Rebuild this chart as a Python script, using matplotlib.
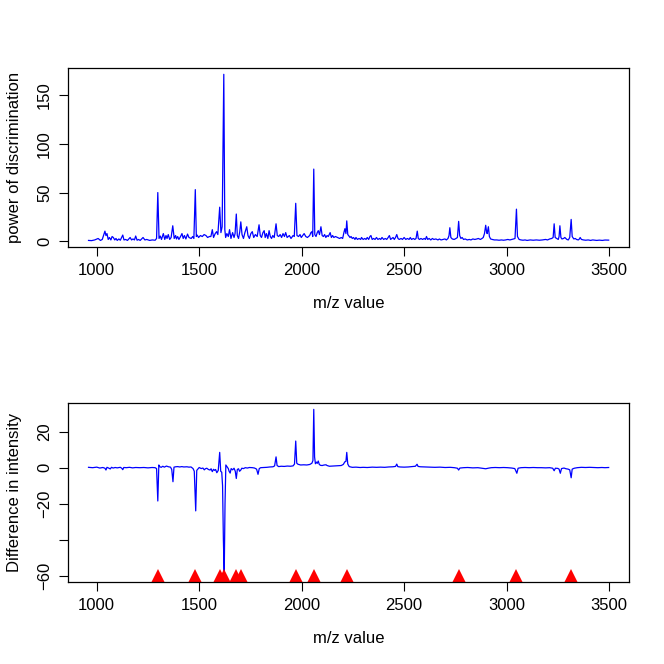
import matplotlib
matplotlib.use("Agg")
import matplotlib.pyplot as plt
import numpy as np

plt.rcParams.update({"font.family": ["Liberation Sans", "DejaVu Sans"], "font.size": 12})

LINE = "#0000ff"
MARK = "#ff0000"

# ---- panel 1: power of discrimination along the spectrum ----
mz_pod = [960, 975, 990, 1007, 1018, 1027, 1040, 1045, 1050, 1056, 1062, 1069, 1075, 1081, 1088,
          1094, 1100, 1108, 1115, 1127, 1133, 1141, 1150, 1163, 1170, 1177, 1184, 1190, 1197, 1204,
          1212, 1226, 1235, 1244, 1258, 1271, 1285, 1292, 1298, 1304, 1310, 1316, 1325, 1332, 1338,
          1343, 1349, 1356, 1363, 1371, 1378, 1385, 1389, 1395, 1401, 1409, 1416, 1422, 1428, 1435,
          1443, 1450, 1461, 1468, 1474, 1481, 1486, 1490, 1497, 1506, 1515, 1524, 1533, 1541, 1550,
          1557, 1564, 1570, 1578, 1585, 1591, 1600, 1606, 1612, 1620, 1625, 1629, 1635, 1642, 1648,
          1655, 1663, 1670, 1675, 1681, 1686, 1692, 1698, 1703, 1709, 1716, 1723, 1732, 1738, 1745,
          1752, 1759, 1766, 1774, 1783, 1792, 1798, 1804, 1811, 1817, 1822, 1828, 1835, 1841, 1847,
          1853, 1859, 1866, 1875, 1881, 1888, 1895, 1902, 1909, 1916, 1922, 1929, 1940, 1948, 1958,
          1964, 1971, 1977, 1985, 1992, 1998, 2005, 2012, 2020, 2028, 2039, 2045, 2050, 2054, 2059,
          2064, 2070, 2076, 2081, 2087, 2094, 2100, 2106, 2112, 2118, 2124, 2130, 2139, 2145, 2151,
          2157, 2165, 2175, 2185, 2193, 2200, 2206, 2211, 2216, 2220, 2225, 2229, 2236, 2241, 2247,
          2253, 2260, 2265, 2272, 2280, 2288, 2292, 2300, 2308, 2314, 2320, 2327, 2333, 2338, 2344,
          2351, 2358, 2365, 2372, 2380, 2386, 2392, 2400, 2408, 2415, 2422, 2428, 2434, 2440, 2446,
          2452, 2458, 2464, 2470, 2476, 2485, 2492, 2500, 2508, 2516, 2524, 2530, 2536, 2545, 2552,
          2558, 2564, 2569, 2575, 2582, 2590, 2598, 2604, 2609, 2615, 2622, 2630, 2638, 2645, 2655,
          2665, 2672, 2680, 2690, 2699, 2706, 2714, 2719, 2723, 2728, 2735, 2744, 2753, 2760, 2766,
          2771, 2777, 2783, 2790, 2798, 2808, 2818, 2826, 2835, 2845, 2855, 2862, 2872, 2880, 2886,
          2892, 2898, 2902, 2905, 2911, 2916, 2922, 2930, 2940, 2952, 2963, 2975, 2985, 2995, 3006,
          3016, 3026, 3034, 3041, 3048, 3053, 3061, 3070, 3080, 3090, 3100, 3115, 3130, 3145, 3160,
          3175, 3190, 3200, 3210, 3220, 3227, 3232, 3237, 3245, 3252, 3256, 3260, 3265, 3270, 3278,
          3284, 3289, 3294, 3301, 3308, 3315, 3320, 3328, 3335, 3341, 3350, 3355, 3359, 3365, 3375,
          3386, 3398, 3410, 3420, 3430, 3440, 3452, 3467, 3480, 3498]
pod = [1, 0.8, 1.5, 3, 1, 2, 10.5, 6, 8, 2, 4, 1.5, 5, 4, 1.5,
       3, 1, 2.5, 1.2, 6.5, 1.5, 2, 1, 4, 1.5, 2.5, 1.5, 5.5, 1.2, 2,
       1, 4, 1.5, 2, 1, 1.5, 1.2, 3, 50, 3, 5.5, 2, 8, 2, 6,
       3, 7, 2, 4, 16, 3, 6, 2.5, 5, 2, 5, 8, 3, 6, 2.5,
       7.5, 4, 3, 5, 3, 53, 5, 6.5, 4, 6, 5, 7, 6, 4, 5,
       5, 12, 4, 8, 10, 7, 35, 9, 15, 171, 12, 4, 8, 5, 12,
       3, 9, 4, 8, 28, 6, 3, 10, 20, 7, 3, 9, 15, 6, 3,
       8, 10, 4, 7, 5, 17, 6, 4, 9, 11, 4, 8, 3, 11, 5,
       3, 6, 4, 18, 6, 5, 7, 4, 8, 5, 9, 4, 6, 3, 6,
       5, 39, 6, 5, 7, 4, 6, 8, 5, 4, 6, 9, 10, 5, 74,
       7, 5, 9, 11, 7, 15, 6, 5, 7, 4, 6, 5, 9, 4, 6,
       4, 5, 4, 3, 4, 3, 9, 13, 8, 21, 7, 6, 4, 5, 3,
       4, 2, 4, 2, 3, 2, 4, 2, 3, 2, 4, 2, 5, 6, 2,
       3, 2, 4, 2, 3, 2, 4, 2, 3, 2, 4, 6, 2, 3, 4,
       2, 4, 7, 3, 2, 3, 2, 4, 2, 3, 2, 4, 2, 3, 2,
       3, 10.5, 3, 2, 3, 2, 3, 2, 5, 2, 3, 1.5, 3, 2, 2.5,
       1.5, 2.5, 1.5, 2, 2.5, 1.5, 3, 6, 14, 4, 2.5, 2, 3, 4, 20.5,
       6, 3, 4, 2, 2.5, 1.5, 2, 1.5, 2.5, 2, 2.5, 3, 2, 3, 4,
       8, 16.5, 10, 8, 15, 5, 2.5, 2, 1.5, 1.5, 1.2, 1.5, 1.2, 1.5, 2,
       1.5, 2, 2.5, 3, 33, 5, 2, 1.5, 1.2, 1.5, 1, 1.5, 1.2, 1.5, 1.2,
       1.5, 2, 1.5, 2.5, 3, 4, 18, 4, 3, 2, 5, 16, 4, 2.5, 3,
       4, 3, 2, 1.5, 4, 22.5, 5, 2.5, 3, 2, 1.5, 2.5, 4, 2, 1.5,
       1.2, 1.5, 1, 1.5, 1.2, 1, 1.3, 1, 1.4, 1.3]

# ---- panel 2: difference in mean intensity ----
mz_diff = [960, 980, 1000, 1015, 1030, 1040, 1045, 1050, 1058, 1066, 1072, 1080, 1090, 1100, 1115,
           1122, 1127, 1132, 1145, 1160, 1175, 1190, 1210, 1230, 1250, 1270, 1285, 1292, 1298, 1303,
           1308, 1315, 1322, 1330, 1340, 1350, 1360, 1366, 1372, 1377, 1385, 1395, 1405, 1415, 1425,
           1440, 1450, 1460, 1470, 1476, 1483, 1488, 1493, 1500, 1510, 1518, 1525, 1530, 1537, 1545,
           1553, 1558, 1564, 1570, 1575, 1580, 1586, 1593, 1600, 1605, 1610, 1614, 1618, 1622, 1626,
           1630, 1636, 1642, 1646, 1651, 1656, 1663, 1670, 1676, 1681, 1686, 1692, 1697, 1703, 1708,
           1716, 1725, 1735, 1745, 1760, 1770, 1780, 1787, 1793, 1800, 1815, 1830, 1845, 1860, 1868,
           1875, 1880, 1888, 1900, 1915, 1930, 1945, 1958, 1965, 1971, 1976, 1982, 1995, 2010, 2025,
           2040, 2050, 2055, 2059, 2063, 2067, 2072, 2076, 2081, 2086, 2092, 2100, 2110, 2119, 2124,
           2135, 2150, 2165, 2180, 2193, 2203, 2211, 2216, 2220, 2225, 2232, 2247, 2265, 2285, 2300,
           2320, 2345, 2365, 2385, 2405, 2425, 2445, 2458, 2464, 2469, 2480, 2500, 2520, 2540, 2555,
           2563, 2568, 2580, 2600, 2625, 2650, 2675, 2700, 2725, 2745, 2760, 2766, 2772, 2790, 2810,
           2835, 2860, 2880, 2898, 2910, 2925, 2945, 2965, 2985, 3005, 3025, 3040, 3050, 3056, 3070,
           3090, 3110, 3130, 3150, 3170, 3190, 3210, 3225, 3232, 3238, 3250, 3256, 3262, 3268, 3280,
           3290, 3300, 3308, 3315, 3320, 3330, 3345, 3365, 3385, 3405, 3425, 3445, 3465, 3480, 3498]
diff = [0.2, 0, 0.3, -0.2, 0.1, -0.3, -1.3, 0.2, -0.2, -0.7, 0.2, -0.2, 0.1, -0.1, 0.2,
        -0.3, -1.1, 0.1, 0, 0.2, -0.1, 0.1, 0, 0.1, -0.1, 0.1, 0, -0.5, -18.5, 1.5,
        0.5, 0.2, 0.8, 0.3, 0.9, 0.5, 0.3, -1, -7.8, 0.3, 0.5, 0.6, 0.4, 0.6, 0.4,
        0.5, 0.3, 0.4, -0.5, -2, -24, -1.5, -0.8, 0.1, -0.5, -0.2, -1.2, -0.6, -0.3, -1.0,
        -1.3, -0.6, -2.2, -0.9, -1.5, -1.0, -2.8, -1.5, 8.5, -2, -2.5, -10, -40, -60, -20,
        1.5, 0.5, -0.5, -2, -3, -0.5, -1.2, -0.3, -2, -6, -1, -0.6, -2, -1.3, -0.3,
        -0.5, 0, -0.2, 0.1, 0, -0.2, -0.8, -3.7, -0.5, 0, 0.1, 0.2, 0.4, 0.5, 1,
        6, 1.2, 0.6, 0.8, 0.7, 0.9, 0.8, 1, 2, 14.8, 2.5, 1.9, 1.5, 1.6, 1.5,
        1.8, 2.5, 4, 32.4, 6, 2.2, 3.1, 2.4, 3.7, 1.8, 1.3, 1.2, 1.5, 1.6, 1.2,
        0.8, 0.9, 1, 1.1, 1.2, 1.8, 3.3, 3.5, 8.5, 2, 0.6, 0.2, 0.3, 0.1, 0.2,
        0.1, 0.3, 0.2, 0.3, 0.2, 0.4, 0.5, 0.7, 2, 0.6, 0.4, 0.3, 0.4, 0.6, 0.8,
        1.9, 0.7, 0.5, 0.4, 0.3, 0.2, 0.3, 0.1, 0.2, 0, -0.3, -1.3, -0.2, 0, 0.1,
        -0.1, 0, -0.3, -0.6, -0.3, 0, 0.1, 0, 0.1, 0, -0.2, -0.5, -3.1, -0.3, 0,
        0.1, 0, 0.1, 0, 0, -0.1, 0, -0.3, -1.7, -0.3, -0.4, -0.8, -3.1, -0.5, -0.2,
        -0.6, -0.8, -1.2, -5.6, -0.8, -0.3, 0, 0.2, 0.1, 0.2, 0.1, 0, 0.1, 0, 0.1]

# selected peaks marked along the bottom
peak_mz = [1298, 1481, 1600, 1622, 1681, 1703, 1971, 2059, 2220, 2766, 3048, 3315]

xticks = [1000, 1500, 2000, 2500, 3000, 3500]


def style(ax, yticks, ylabels=None):
    ax.margins(x=0.04, y=0.04)
    ax.set_xticks(xticks)
    ax.set_yticks(yticks)
    if ylabels is not None:
        ax.set_yticklabels(ylabels)
    ax.tick_params(direction="out", length=6.3, width=0.8, pad=5)
    for lab in ax.get_yticklabels():
        lab.set_rotation(90)
        lab.set_va("center")
    for s in ax.spines.values():
        s.set_linewidth(0.9)


fig = plt.figure(figsize=(6.64, 6.64), dpi=100)

ax1 = fig.add_axes([0.102, 0.6276, 0.846, 0.2705])
ax1.plot(mz_pod, pod, color=LINE, lw=0.9)
style(ax1, [0, 50, 100, 150])
ax1.set_xlabel("m/z value", labelpad=13)
ax1.set_ylabel("power of discrimination", labelpad=11)

ax2 = fig.add_axes([0.102, 0.123, 0.846, 0.2705])
ax2.plot(mz_diff, diff, color=LINE, lw=0.9)
ax2.plot(peak_mz, np.full(len(peak_mz), min(diff)), "^", color=MARK, ms=9.5,
         markeredgewidth=0, clip_on=False)
style(ax2, [-60, -40, -20, 0, 20], ["\u221260", "", "\u221220", "0", "20"])
ax2.set_xlabel("m/z value", labelpad=13)
ax2.set_ylabel("Difference in intensity", labelpad=11)

fig.savefig("out.png", dpi=100)
